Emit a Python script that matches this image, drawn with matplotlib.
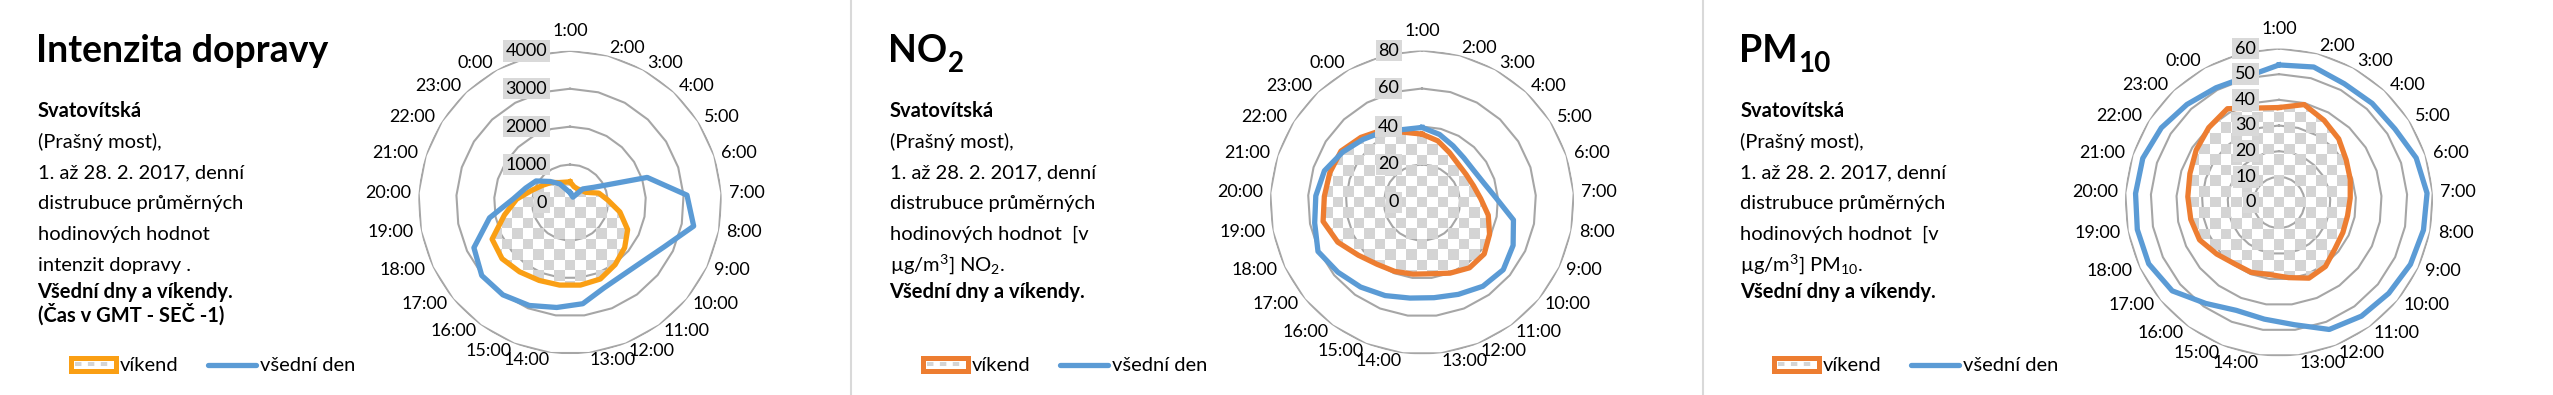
import numpy as np
import matplotlib
matplotlib.use("Agg")
import matplotlib.pyplot as plt
from matplotlib.image import BboxImage
from matplotlib.transforms import Bbox, TransformedBbox, offset_copy
from matplotlib.patches import Rectangle
from matplotlib.lines import Line2D

plt.rcParams['font.family'] = ['Lato', 'DejaVu Sans']
plt.rcParams['mathtext.fontset'] = 'custom'
plt.rcParams['mathtext.rm'] = 'Lato'
plt.rcParams['mathtext.bf'] = 'Lato:bold'
plt.rcParams['mathtext.it'] = 'Lato:italic'

# ---------------- data ----------------
hours = ['1:00', '2:00', '3:00', '4:00', '5:00', '6:00', '7:00', '8:00', '9:00',
         '10:00', '11:00', '12:00', '13:00', '14:00', '15:00', '16:00', '17:00',
         '18:00', '19:00', '20:00', '21:00', '22:00', '23:00', '0:00']

traffic_weekend = [545, 430, 410, 440, 500, 800, 1000, 1340, 1680, 1870, 2025, 2170,
                   2195, 2195, 2210, 2260, 2325, 2270, 1760, 1410, 1050, 850, 725, 600]
traffic_weekday = [260, 190, 160, 490, 750, 2140, 3090, 3320, 2745, 2460, 2365, 2425,
                   2690, 2790, 2920, 3010, 3020, 2800, 2160, 1500, 1230, 1060, 760, 560]

no2_weekend = [36, 33.5, 30, 27.8, 27.5, 28.5, 31, 35.5, 39.3, 42.5, 42.5, 40,
               37.8, 38, 39, 40.2, 43.5, 49, 53, 51.5, 51, 50.5, 47, 43.5]
no2_weekday = [39.5, 37, 34, 32.2, 32, 34, 39, 49, 53, 55.5, 54.5, 52,
               50.5, 50.7, 52.7, 55, 57.5, 60.5, 57.5, 56, 54, 49.5, 45.5, 42.5]

pm10_weekend = [37, 39.4, 36.5, 34, 31, 29.2, 27.8, 27.2, 27.5, 28.3, 30.8, 31.7,
                29.5, 28.3, 29.3, 29.5, 31.5, 34.2, 35, 35.6, 36.5, 38.2, 40, 41.7]
pm10_weekday = [53.6, 54.5, 52.8, 53, 53.5, 56.2, 57.8, 57.3, 56.6, 55.5, 54.7, 53.2,
                48, 45.8, 45.2, 48.6, 54, 56.1, 56.2, 56, 55.8, 54.3, 52.4, 51]

traffic_ticks = [0, 1000, 2000, 3000, 4000]
no2_ticks = [0, 20, 40, 60, 80]
pm10_ticks = [0, 10, 20, 30, 40, 50, 60]

series_names = ['víkend', 'všední den']

titles = [('Intenzita dopravy', ''), ('NO', '2'), ('PM', '10')]
texts = [
    [('Svatovítská', 'bold'), ('(Prašný most),', 'normal'),
     ('1. až 28. 2. 2017, denní', 'normal'), ('distrubuce průměrných', 'normal'),
     ('hodinových hodnot', 'normal'), ('intenzit dopravy .', 'normal'),
     ('Všední dny a víkendy.', 'bold'), ('(Čas v GMT - SEČ -1)', 'bold')],
    [('Svatovítská', 'bold'), ('(Prašný most),', 'normal'),
     ('1. až 28. 2. 2017, denní', 'normal'), ('distrubuce průměrných', 'normal'),
     ('hodinových hodnot  [v', 'normal'), ('µg/m$^3$] NO$_2$.', 'normal'),
     ('Všední dny a víkendy.', 'bold')],
    [('Svatovítská', 'bold'), ('(Prašný most),', 'normal'),
     ('1. až 28. 2. 2017, denní', 'normal'), ('distrubuce průměrných', 'normal'),
     ('hodinových hodnot  [v', 'normal'), ('µg/m$^3$] PM$_{10}$.', 'normal'),
     ('Všední dny a víkendy.', 'bold')],
]

# ---------------- style / layout ----------------
W, H = 2553, 395
fig = plt.figure(figsize=(W / 100, H / 100), dpi=100)
fig.patch.set_facecolor('white')
renderer = fig.canvas.get_renderer()

BLUE = '#5B9BD5'
ORANGES = ['#FA9F14', '#ED7D31', '#ED7D31']
GRID = '#A6A6A6'
CHECK = '#D4D4D4'

panel_x0 = [0, 852, 1703]
centers = [570, 1422, 2279]
radii = [151.7, 152.0, 154.0]
cy = 202.5
n_slots = 25  # category axis has 24 hours + one empty slot

panels = [
    (traffic_weekend, traffic_weekday, traffic_ticks),
    (no2_weekend, no2_weekday, no2_ticks),
    (pm10_weekend, pm10_weekday, pm10_ticks),
]

theta = np.arange(len(hours)) * 2 * np.pi / n_slots
theta_ring = np.arange(n_slots + 1) * 2 * np.pi / n_slots


def checker_rgba(n):
    g = (np.add.outer(np.arange(n), np.arange(n)) % 2)
    rgba = np.ones((n, n, 4))
    col = matplotlib.colors.to_rgb(CHECK)
    for c in range(3):
        rgba[..., c] = np.where(g == 0, col[c], 1.0)
    rgba[..., 3] = np.where(g == 0, 1.0, 0.0)
    return rgba


def fx(px):
    return px / W


def fy(py):
    return 1 - py / H


for p, (wkend, wkday, ticks) in enumerate(panels):
    cx, R = centers[p], radii[p]
    ax = fig.add_axes([(cx - R) / W, (H - cy - R) / H, 2 * R / W, 2 * R / H],
                      projection='polar')
    rmax = ticks[-1]
    ax.set_theta_zero_location('N')
    ax.set_theta_direction(-1)
    ax.set_ylim(0, rmax)
    ax.grid(False)
    ax.set_xticks([])
    ax.set_yticks([])
    ax.spines['polar'].set_visible(False)
    ax.patch.set_alpha(0)

    # ring gridlines (polygonal)
    for v in ticks[1:]:
        ax.plot(theta_ring, [v] * len(theta_ring), color=GRID, lw=1.5, zorder=1)

    # weekend area with checker pattern
    poly = ax.fill(theta, wkend, facecolor='none', edgecolor='none', zorder=1.4)[0]
    n = int(round(2 * R / 10.5))
    img = BboxImage(TransformedBbox(Bbox([[0, 0], [1, 1]]), ax.transAxes),
                    interpolation='nearest', origin='lower')
    img.set_data(checker_rgba(n))
    img.set_zorder(1.5)
    ax.add_artist(img)
    img.set_clip_path(poly)

    # series lines
    ax.plot(np.append(theta, theta[0]), np.append(wkend, wkend[0]), color=ORANGES[p],
            lw=3.8, solid_joinstyle='round', zorder=2)
    ax.plot(np.append(theta, theta[0]), np.append(wkday, wkday[0]), color=BLUE,
            lw=3.8, solid_joinstyle='round', zorder=3)

    # value-axis labels
    trans = offset_copy(ax.transData, fig=fig, x=-23, y=0, units='dots')
    for v in ticks:
        ax.text(0, v, str(v), transform=trans, ha='right', va='center', fontsize=13,
                zorder=6, clip_on=False,
                bbox=dict(boxstyle='square,pad=0.15', fc='#D9D9D9', ec='none'))

    # hour labels
    for k, lab in enumerate(hours):
        th = theta[k]
        if k == 0:
            ax.text(th, rmax * (1 + 14.5 / R), lab, ha='center', va='baseline',
                    fontsize=13, clip_on=False)
        else:
            ha = 'left' if np.sin(th) > 0 else 'right'
            ax.text(th, rmax * (1 + 7.5 / R), lab, ha=ha, va='center',
                    fontsize=13, clip_on=False)

    # left text block
    x0 = panel_x0[p]
    main, sub = titles[p]
    t = fig.text(fx(x0 + 36), fy(62), main, fontsize=27, fontweight='bold',
                 ha='left', va='baseline')
    if sub:
        ext = t.get_window_extent(renderer)
        fig.text(fx(ext.x1 + 1), fy(72), sub, fontsize=20, fontweight='bold',
                 ha='left', va='baseline')
    base = [117.3, 148.3, 178.3, 209.3, 240.0, 270.7, 297.5, 322.0]
    for i, (line, wt) in enumerate(texts[p]):
        fig.text(fx(x0 + 37.5), fy(base[i]), line, fontsize=14.5, fontweight=wt,
                 ha='left', va='baseline')

    # legend
    bx, by, bw, bh = x0 + 68, 355, 50, 18
    fig.add_artist(Rectangle((fx(bx + 2.5), fy(by + bh - 2.5)), (bw - 5) / W, (bh - 5) / H,
                             transform=fig.transFigure, facecolor='white',
                             edgecolor=ORANGES[p], lw=3.6))
    fig.add_artist(Line2D([fx(bx + 7), fx(bx + bw - 7)], [fy(by + bh / 2)] * 2,
                          transform=fig.transFigure, color=CHECK, lw=2.9,
                          linestyle=(0, (1.6, 1.6))))
    fig.text(fx(x0 + 120), fy(371), series_names[0], fontsize=14.5,
             ha='left', va='baseline')
    fig.add_artist(Line2D([fx(x0 + 208), fx(x0 + 256)], [fy(364.5)] * 2,
                          transform=fig.transFigure, color=BLUE, lw=3.8,
                          solid_capstyle='round'))
    fig.text(fx(x0 + 260), fy(371), series_names[1], fontsize=14.5,
             ha='left', va='baseline')

# panel separators
for xs in [851, 1703]:
    fig.add_artist(Line2D([fx(xs), fx(xs)], [0, 1], transform=fig.transFigure,
                          color='#D9D9D9', lw=1.5))

fig.savefig('out.png', dpi=100, facecolor='white')
